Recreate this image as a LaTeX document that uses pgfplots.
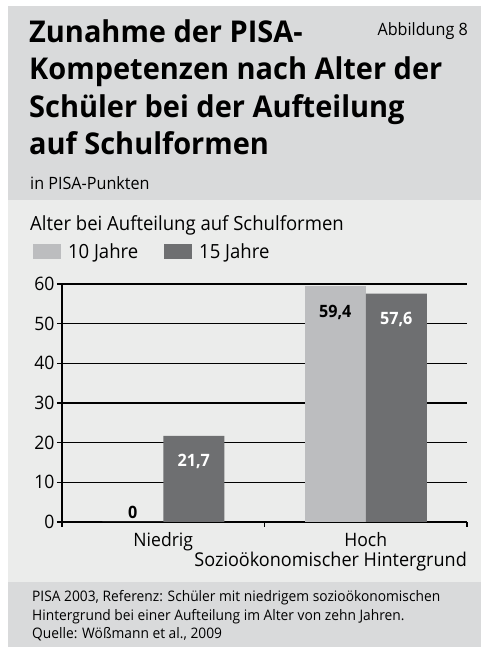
\documentclass[border=0pt]{standalone}
\usepackage{pgfplots}
\pgfplotsset{compat=1.18}
\usepackage{fontspec}
\setmainfont{Open Sans}[FakeStretch=0.95]
\newfontfamily\titlefont{Open Sans}[FakeStretch=0.965]
\definecolor{hdr}{HTML}{D9DADB}
\definecolor{pnl}{HTML}{EBECEB}
\definecolor{lightbar}{HTML}{BCBDBF}
\definecolor{darkbar}{HTML}{6E6F71}
\begin{document}
\begin{tikzpicture}[x=1pt,y=1pt]
\useasboundingbox (0,0) rectangle (481,647);
\fill[white] (0,0) rectangle (481,647);
\fill[hdr] (8,447) rectangle (481,641);
\fill[pnl] (8,65) rectangle (481,447);
\fill[hdr] (8,0) rectangle (481,65);
% title
\begin{scope}[every node/.style={anchor=base west, inner sep=0pt, font=\titlefont\fontsize{30}{36}\selectfont\bfseries}]
\node at (29,604) {Zunahme der PISA-};
\node at (29,567) {Kompetenzen nach Alter der};
\node at (29,529) {Schüler bei der Aufteilung};
\node at (29,492) {auf Schulformen};
\end{scope}
\node[anchor=base east, inner sep=0pt, font=\fontsize{17}{20}\selectfont] at (468,611) {Abbildung 8};
\node[anchor=base west, inner sep=0pt, font=\fontsize{17}{20}\selectfont] at (30,457) {in PISA-Punkten};
\node[anchor=base west, inner sep=0pt, font=\fontsize{19.5}{22}\selectfont] at (30,416) {Alter bei Aufteilung auf Schulformen};
\node[anchor=base east, inner sep=0pt, font=\fontsize{19}{22}\selectfont] at (467,80) {Sozioökonomischer Hintergrund};
\node[anchor=base west, inner sep=0pt, font=\fontsize{14.5}{18}\selectfont, align=left] at (32,45) {PISA 2003, Referenz: Schüler mit niedrigem sozioökonomischen};
\node[anchor=base west, inner sep=0pt, font=\fontsize{14.5}{18}\selectfont] at (32,27) {Hintergrund bei einer Aufteilung im Alter von zehn Jahren.};
\node[anchor=base west, inner sep=0pt, font=\fontsize{14.5}{18}\selectfont] at (32,9) {Quelle: Wößmann et al., 2009};
\begin{axis}[
  at={(62pt,125pt)}, anchor=south west,
  scale only axis, width=405pt, height=238pt,
  xmin=-0.5, xmax=1.5, ymin=0, ymax=60,
  ybar=0pt, bar width=61pt,
  axis x line*=bottom, axis y line*=left,
  axis line style={black, line width=1.1pt, -},
  ytick={0,10,...,60},
  ymajorgrids, grid style={black, line width=1.1pt},
  tick align=outside, major tick length=5pt,
  tick style={black, line width=1.1pt},
  xtick={-0.5,0.5,1.5}, xticklabels={},
  extra x ticks={0,1}, extra x tick labels={Niedrig,Hoch},
  extra x tick style={major tick length=0pt, tick style={draw=none},
     xticklabel style={anchor=base, yshift=-25pt}},
  /pgf/number format/assume math mode=true,
  tick label style={font=\fontsize{18.5}{22}\selectfont},
  yticklabel style={xshift=1pt},
  every axis plot post/.append style={legend image code/.code={\fill[##1] (-3pt,-7.5pt) rectangle (25pt,7.5pt);}},
  legend style={at={(axis description cs:-0.072,1.092)}, anchor=south west,
     draw=none, fill=none, legend columns=2, inner sep=0pt,
     font=\fontsize{19.5}{22}\selectfont,
     /tikz/every odd column/.append style={column sep=5pt},
     /tikz/every even column/.append style={column sep=24pt}},
  clip=false,
]
\addplot[fill=lightbar, draw=none, bar shift=-30.5pt,
  nodes near coords, point meta=explicit symbolic,
  every node near coord/.append style={font=\fontsize{17}{20}\selectfont\bfseries, text=black, anchor=center, yshift=-26pt}]
  coordinates {(1,59.4) [59,4]};
\addlegendentry{10 Jahre}
\addplot[fill=darkbar, draw=none, bar shift=30.5pt,
  nodes near coords, point meta=explicit symbolic,
  every node near coord/.append style={font=\fontsize{17}{20}\selectfont\bfseries, text=white, anchor=center, yshift=-26pt}]
  coordinates {(0,21.7) [21,7] (1,57.6) [57,6]};
\addlegendentry{15 Jahre}
\addplot[fill=lightbar, draw=none, bar shift=-30.5pt, forget plot,
  nodes near coords, point meta=explicit symbolic,
  every node near coord/.append style={font=\fontsize{17}{20}\selectfont\bfseries, text=black, anchor=center, yshift=10pt}]
  coordinates {(0,0) [0]};
\end{axis}
\end{tikzpicture}
\end{document}
